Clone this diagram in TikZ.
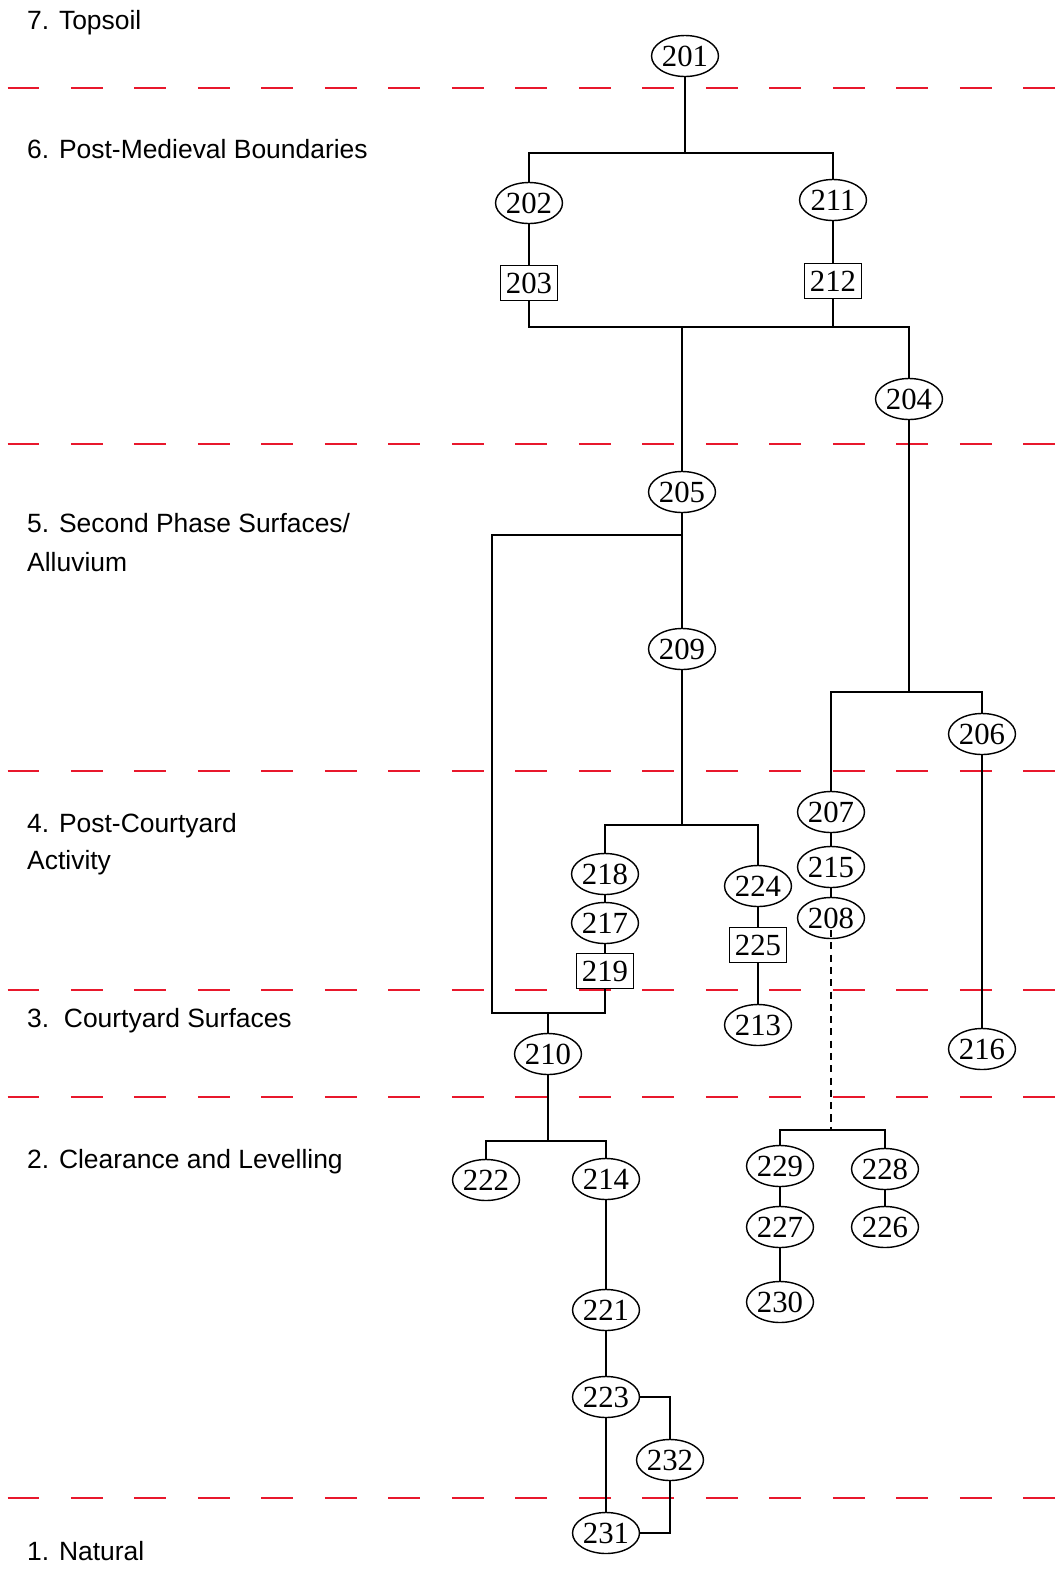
\documentclass[tikz,border=0pt]{standalone}
\usepackage{fontspec}
\setmainfont{Liberation Serif}
\setsansfont{Liberation Sans}
\usetikzlibrary{shapes.geometric}
\definecolor{phasered}{RGB}{232,24,44}
\begin{document}
\begin{tikzpicture}[x=0.02cm,y=-0.02cm,line width=0.8pt,
  ctx/.style={draw,ellipse,inner sep=0pt,minimum width=1.34cm,minimum height=0.82cm,font=\fontsize{17.5}{17.5}\selectfont},
  cbox/.style={draw,rectangle,inner sep=0pt,minimum width=1.14cm,minimum height=0.70cm,font=\fontsize{17.5}{17.5}\selectfont},
  phase/.style={draw=phasered,line width=0.9pt,dash pattern=on 0.64cm off 0.63cm},
  lab/.style={anchor=base west,inner sep=0pt,font=\sffamily\fontsize{15.05}{18}\selectfont}]
  \useasboundingbox (0,0) rectangle (1060,1573);
  % phase boundaries
  \foreach \y in {88,444,771,990,1097,1498} \draw[phase] (7.5,\y) -- (1060,\y);
  % phase labels
  \node[lab] (lab7) at (26.5,29.3) {7. Topsoil};
  \node[lab] (lab6) at (26.5,158.3) {6. Post-Medieval Boundaries};
  \node[lab] (lab5a) at (26.5,532.7) {5. Second Phase Surfaces/};
  \node[lab] (lab5b) at (26.5,571) {Alluvium};
  \node[lab] (lab4a) at (26.5,832.3) {4. Post-Courtyard};
  \node[lab] (lab4b) at (26.5,869.5) {Activity};
  \node[lab] (lab3) at (26.5,1027.7) {3.\ \ Courtyard Surfaces};
  \node[lab] (lab2) at (26.5,1168.3) {2. Clearance and Levelling};
  \node[lab] (lab1) at (26.5,1560) {1. Natural};
  % contexts
  \node[ctx] (n201) at (685,56) {201};
  \node[ctx] (n202) at (529,203) {202};
  \node[cbox] (n203) at (529,283) {203};
  \node[ctx] (n211) at (833,200) {211};
  \node[cbox] (n212) at (833,281) {212};
  \node[ctx] (n204) at (909,399) {204};
  \node[ctx] (n205) at (682,492) {205};
  \node[ctx] (n209) at (682,649) {209};
  \node[ctx] (n206) at (982,734) {206};
  \node[ctx] (n207) at (831,812) {207};
  \node[ctx] (n215) at (831,867) {215};
  \node[ctx] (n208) at (831,918) {208};
  \node[ctx] (n218) at (605,874) {218};
  \node[ctx] (n217) at (605,923) {217};
  \node[cbox] (n219) at (605,971) {219};
  \node[ctx] (n224) at (758,886) {224};
  \node[cbox] (n225) at (758,945) {225};
  \node[ctx] (n213) at (758,1025) {213};
  \node[ctx] (n216) at (982,1049) {216};
  \node[ctx] (n210) at (548,1054) {210};
  \node[ctx] (n222) at (486,1180) {222};
  \node[ctx] (n214) at (606,1179) {214};
  \node[ctx] (n221) at (606,1310) {221};
  \node[ctx] (n223) at (606,1397) {223};
  \node[ctx] (n232) at (670,1460) {232};
  \node[ctx] (n231) at (606,1533) {231};
  \node[ctx] (n229) at (780,1166) {229};
  \node[ctx] (n227) at (780,1227) {227};
  \node[ctx] (n230) at (780,1302) {230};
  \node[ctx] (n228) at (885,1169) {228};
  \node[ctx] (n226) at (885,1227) {226};
  % links
  \coordinate (j201) at (685,153); \coordinate (j203) at (682,327);
  \draw (n201) -- (j201);
  \draw (n202) |- (j201) -| (n211);
  \draw (n202) -- (n203) (n211) -- (n212);
  \draw (n203) |- (j203) -| (n204);
  \draw (n212) -- (n212 |- j203);
  \draw (j203) -- (n205) -- (n209);
  \coordinate (j205) at (682,535); \coordinate (c205) at (492,535);
  \coordinate (c210) at (492,1013); \coordinate (j210) at (548,1013);
  \draw (j205) -- (c205) -- (c210) -| (n219);
  \draw (j210) -- (n210);
  \coordinate (j209) at (682,825);
  \draw (n209) -- (j209);
  \draw (n218) |- (j209) -| (n224);
  \draw (n218) -- (n217) -- (n219);
  \draw (n224) -- (n225) -- (n213);
  \coordinate (j204) at (909,692);
  \draw (n204) -- (j204);
  \draw (n207) |- (j204) -| (n206);
  \draw (n207) -- (n215) -- (n208);
  \draw (n206) -- (n216);
  \coordinate (j208) at (831,1130);
  \draw[dash pattern=on 4pt off 3pt,shorten <=0.24cm] (n208.center) -- (j208);
  \draw (n229) |- (j208) -| (n228);
  \draw (n229) -- (n227) -- (n230);
  \draw (n228) -- (n226);
  \coordinate (j214) at (548,1141);
  \draw (n210) -- (j214);
  \draw (n222) |- (j214) -| (n214);
  \draw (n214) -- (n221) -- (n223) -- (n231);
  \draw (n223) -| (n232);
  \draw (n232) |- (n231);
\end{tikzpicture}
\end{document}
